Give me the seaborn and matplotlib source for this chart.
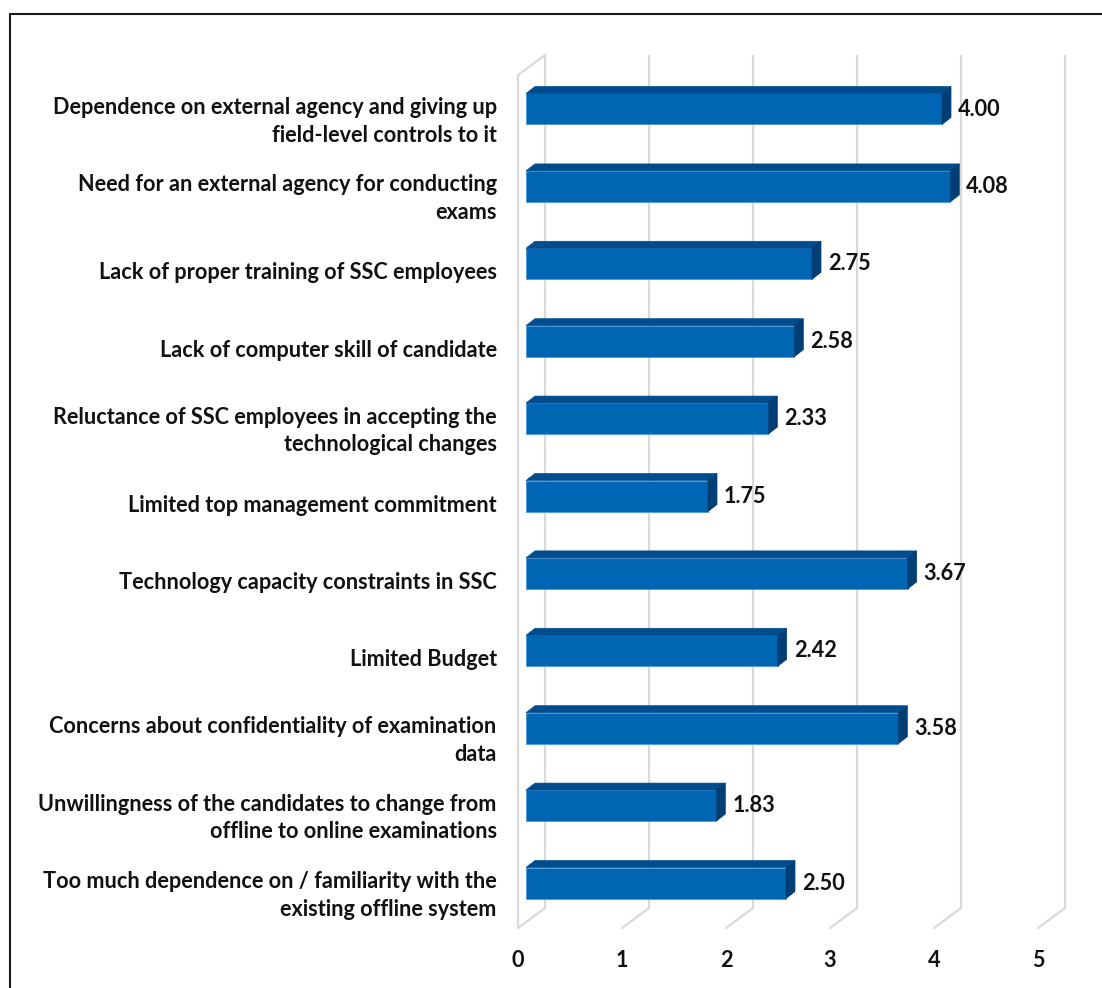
import matplotlib
matplotlib.use("Agg")
import matplotlib.pyplot as plt
import matplotlib.transforms as mtransforms
from matplotlib.patches import Polygon
from matplotlib.lines import Line2D
import seaborn as sns
import pandas as pd

# ---- data -------------------------------------------------------------
categories = [
    "Dependence on external agency and giving up\nfield-level controls to it",
    "Need for an external agency for conducting\nexams",
    "Lack of proper training of SSC employees",
    "Lack of computer skill of candidate",
    "Reluctance of SSC employees in accepting the\ntechnological changes",
    "Limited top management commitment",
    "Technology capacity constraints in SSC",
    "Limited Budget",
    "Concerns about confidentiality of examination\ndata",
    "Unwillingness of the candidates to change from\noffline to online examinations",
    "Too much dependence on / familiarity with the\nexisting offline system",
]
scores = [4.00, 4.08, 2.75, 2.58, 2.33, 1.75, 3.67, 2.42, 3.58, 1.83, 2.50]
x_ticks = [0, 1, 2, 3, 4, 5]

# ---- style ------------------------------------------------------------
sns.set_style("white")
plt.rcParams["font.family"] = ["Lato", "DejaVu Sans"]
plt.rcParams["font.weight"] = "bold"

FRONT = "#0066B3"
TOP = "#004C8C"
SIDE = "#003E74"
EDGE = "#4A98D8"
GRID = "#D9D9D9"
TXT = "#111111"
FS = 15.6

W, H, DPI = 1102, 988, 100
fig = plt.figure(figsize=(W / DPI, H / DPI), dpi=DPI)

# axes placement (pixels from top-left)
ax_l, ax_r, ax_t, ax_b = 505, 1095, 40, 950
ax = fig.add_axes([ax_l / W, (H - ax_b) / H, (ax_r - ax_l) / W, (ax_b - ax_t) / H])

# scale: pixels per data unit
PX_X = 104.0
PX_Y = 77.4
X0_PX = 526.0   # bar front face zero
Y0_PX = 109.0   # first category centre


def dx(px):
    return px / PX_X


def dy(px):
    return px / PX_Y


df = pd.DataFrame({"category": categories, "score": scores})
sns.barplot(data=df, x="score", y="category", orient="h", color=FRONT,
            width=dy(31), saturation=1, ax=ax, zorder=3,
            edgecolor=EDGE, linewidth=0.6)
ax.set_xlim((ax_l - X0_PX) / PX_X, (ax_r - X0_PX) / PX_X)
ax.set_ylim((ax_b - Y0_PX) / PX_Y, (ax_t - Y0_PX) / PX_Y)

# ---- 3D box: back wall gridlines, floor and left wall -----------------
depth_back_x = dx(19)      # back plane offset from bar front
depth_front_x = dx(-8)     # floor front edge offset
grid_top = dy(55 - Y0_PX)
floor_back = dy(908 - Y0_PX)
floor_front = dy(928 - Y0_PX)
wall_top_front = dy(75 - Y0_PX)

for k in x_ticks:
    ax.plot([k + depth_back_x, k + depth_back_x], [grid_top, floor_back],
            color=GRID, lw=1.6, zorder=1, solid_capstyle="butt")
    ax.plot([k + depth_back_x, k + depth_front_x], [floor_back, floor_front],
            color=GRID, lw=1.6, zorder=1)
# left wall
ax.plot([depth_front_x, depth_front_x], [wall_top_front, floor_front],
        color=GRID, lw=1.6, zorder=1)
ax.plot([depth_front_x, depth_back_x], [wall_top_front, grid_top],
        color=GRID, lw=1.6, zorder=1)

# ---- 3D faces of the bars ---------------------------------------------
ox, oy = dx(9), dy(7)
bars = ax.containers[0]
for patch in bars.patches:
    x0, y0 = patch.get_x(), patch.get_y()
    w, h = patch.get_width(), patch.get_height()
    ytop, ybot = min(y0, y0 + h), max(y0, y0 + h)
    x1 = x0 + w
    top = Polygon([(x0, ytop), (x0 + ox, ytop - oy), (x1 + ox, ytop - oy), (x1, ytop)],
                  closed=True, facecolor=TOP, edgecolor=TOP, lw=0.5, zorder=3)
    side = Polygon([(x1, ytop), (x1 + ox, ytop - oy), (x1 + ox, ybot - oy), (x1, ybot)],
                   closed=True, facecolor=SIDE, edgecolor=SIDE, lw=0.5, zorder=3)
    ax.add_patch(top)
    ax.add_patch(side)

# value labels, nudged down so the digits sit on the bar's centre line
labels = ax.bar_label(bars, fmt="%.2f", padding=11.5, fontsize=FS,
                      fontweight="bold", color=TXT)
nudge = mtransforms.ScaledTranslation(0, -3 / DPI, fig.dpi_scale_trans)
for t in labels:
    t.set_transform(t.get_transform() + nudge)

# ---- ticks -------------------------------------------------------------
n = len(categories)
ax.set_yticks([i + dy(7) for i in range(n)])
ax.set_yticklabels(categories, fontsize=FS, fontweight="bold", color=TXT,
                   ha="right", linespacing=1.4)
ax.set_xticks([k + depth_front_x for k in x_ticks])
ax.set_xticklabels([str(k) for k in x_ticks], fontsize=FS, fontweight="bold",
                   color=TXT)
ax.tick_params(axis="y", length=0, pad=6)
ax.tick_params(axis="x", length=0, pad=0)
ax.set_xlabel("")
ax.set_ylabel("")
for s in ax.spines.values():
    s.set_visible(False)
ax.grid(False)

# outer frame (only top and left edges fall inside the canvas)
frame_l, frame_t = 10, 14
fig.add_artist(Line2D([frame_l / W, 1.0], [(H - frame_t) / H] * 2,
                      transform=fig.transFigure, color="#1a1a1a", lw=1.5))
fig.add_artist(Line2D([frame_l / W] * 2, [0.0, (H - frame_t) / H],
                      transform=fig.transFigure, color="#1a1a1a", lw=1.5))

fig.savefig("out.png", dpi=DPI, facecolor="white")
